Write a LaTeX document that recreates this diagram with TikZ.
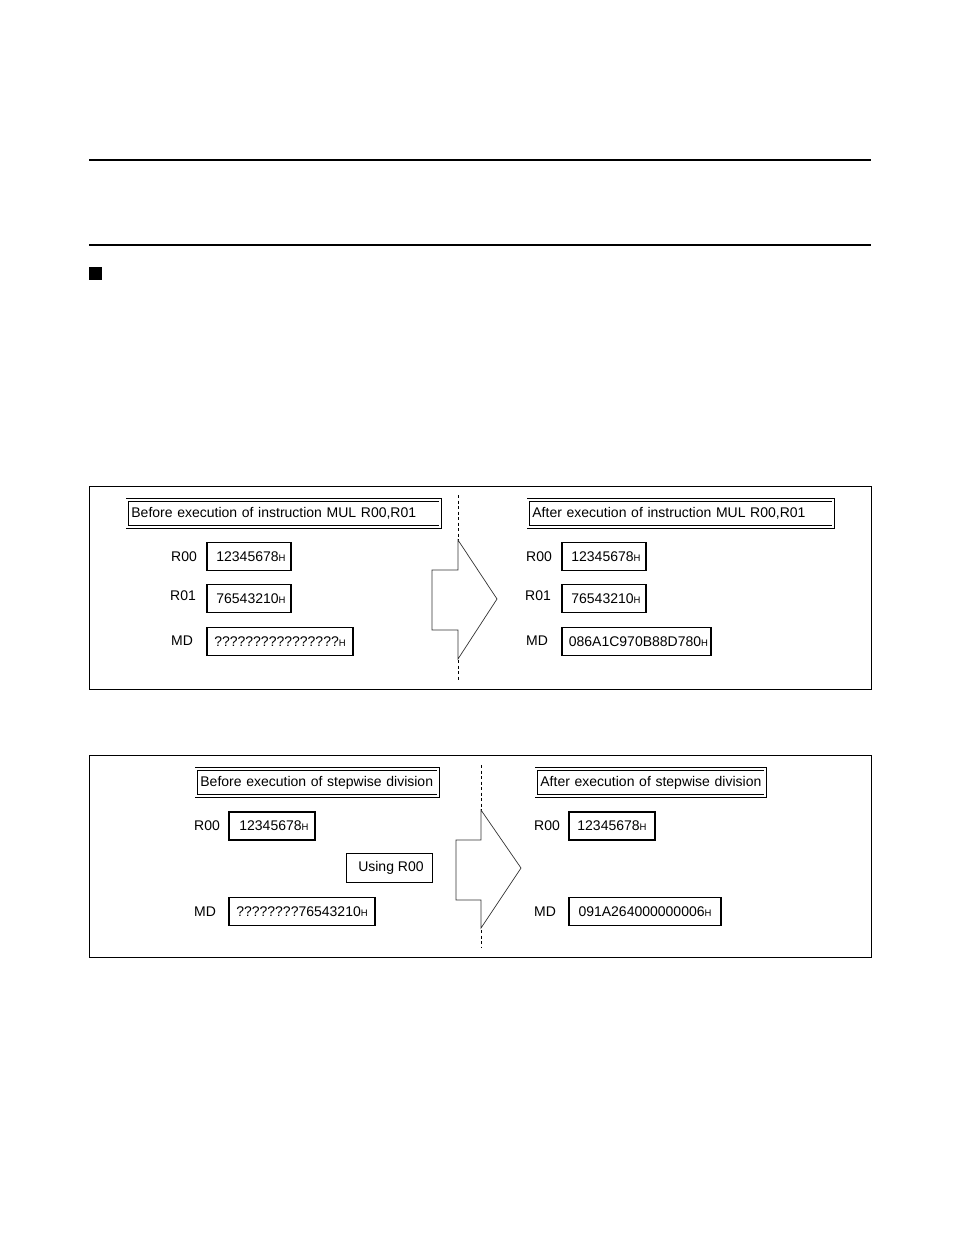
\documentclass[tikz,border=0pt]{standalone}
\usepackage{fontspec}
\setmainfont{Liberation Sans}
\usepackage{tikz}
\newcommand{\hexsuf}{{\fontsize{9.5pt}{10pt}\selectfont H}}

\begin{document}
\begin{tikzpicture}[x=1pt, y=-1pt, font=\fontsize{14pt}{16pt}\selectfont,
  regbox/.style={draw, line width=1.5pt, inner sep=0pt, minimum height=28pt},
  titlebox/.style={draw, double, line width=0.8pt, double distance=2pt,
    inner xsep=4pt, inner ysep=0pt, minimum height=27pt, align=left, anchor=west},
  reglabel/.style={anchor=west, inner sep=0pt},
  bigarrow/.style={draw=black!80, line width=0.7pt, fill=white},
  divider/.style={line width=0.8pt, dash pattern=on 3pt off 2.5pt}]
  \useasboundingbox (0,0) rectangle (954,1235);
  % Header rules
  \draw[line width=1.2pt] (89,160) -- (871,160);
  \draw[line width=1.2pt] (89,245) -- (871,245);
  \fill (89,267) rectangle (102,280);

  % MUL example
  \draw[line width=0.9pt] (89,486) rectangle (871,689);
  \draw[divider] (458,495) -- (458,680);
  \draw[bigarrow] (432,570) -- (458,570) -- (458,540) -- (497,599)
    -- (458,659) -- (458,630) -- (432,630) -- cycle;
  \node[titlebox, text width=305pt] (mulPre) at (127,513.5)
    {Before execution of instruction MUL R00,R01};
  \node[reglabel] (mulPreR00lbl) at (171,557) {R00};
  \node[regbox, minimum width=84pt] (mulPreR00) at (249,556.5) {\ 12345678\hexsuf};
  \node[reglabel] (mulPreR01lbl) at (170,596) {R01};
  \node[regbox, minimum width=84pt] (mulPreR01) at (249,598.5) {\ 76543210\hexsuf};
  \node[reglabel] (mulPreMDlbl) at (171,641) {MD};
  \node[regbox, minimum width=146pt] (mulPreMD) at (280,641.5) {????????????????\hexsuf};

  \node[titlebox, text width=297pt] (mulPost) at (528,513.5)
    {After execution of instruction MUL R00,R01};
  \node[reglabel] (mulPostR00lbl) at (526,557) {R00};
  \node[regbox, minimum width=84pt] (mulPostR00) at (604,556.5) {\ 12345678\hexsuf};
  \node[reglabel] (mulPostR01lbl) at (525,596) {R01};
  \node[regbox, minimum width=84pt] (mulPostR01) at (604,598.5) {\ 76543210\hexsuf};
  \node[reglabel] (mulPostMDlbl) at (526,641) {MD};
  \node[regbox, minimum width=149pt] (mulPostMD) at (636.5,641.5) {\ 086A1C970B88D780\hexsuf};

  % Stepwise division example
  \draw[line width=0.9pt] (89,755) rectangle (871,957);
  \draw[divider] (481,765) -- (481,948);
  \draw[bigarrow] (456,840) -- (481,840) -- (481,810) -- (521,868)
    -- (481,928) -- (481,900) -- (456,900) -- cycle;
  \node[titlebox, text width=234pt] (divPre) at (196,782.5)
    {Before execution of stepwise division};
  \node[reglabel] (divPreR00lbl) at (194,826) {R00};
  \node[regbox, minimum width=86pt] (divPreR00) at (272,826) {\ 12345678\hexsuf};
  \node[draw, line width=0.8pt, minimum width=86pt, minimum height=29pt] (divUsing) at (389,868) {\ Using R00};
  \node[reglabel] (divPreMDlbl) at (194,912) {MD};
  \node[regbox, minimum width=146pt] (divPreMD) at (302,911.5) {????????76543210\hexsuf};

  \node[titlebox, text width=221pt] (divPost) at (536,782.5)
    {After execution of stepwise division};
  \node[reglabel] (divPostR00lbl) at (534,826) {R00};
  \node[regbox, minimum width=86pt] (divPostR00) at (612,826) {12345678\hexsuf};
  \node[reglabel] (divPostMDlbl) at (534,912) {MD};
  \node[regbox, minimum width=152pt] (divPostMD) at (645,911.5) {091A264000000006\hexsuf};
\end{tikzpicture}
\end{document}
